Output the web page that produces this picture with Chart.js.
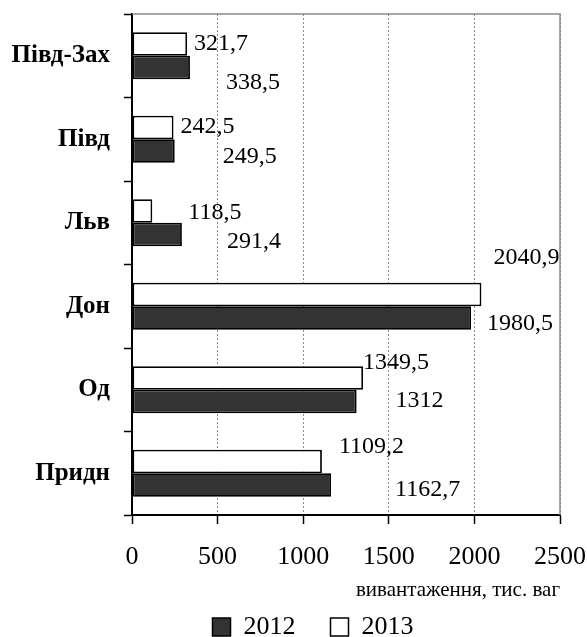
<!DOCTYPE html>
<html>
<head>
<meta charset="utf-8">
<script src="https://cdn.jsdelivr.net/npm/chart.js@4"></script>
<style>
  html, body { margin: 0; padding: 0; background: #fff; }
  #wrap { width: 587px; height: 637px; }
</style>
</head>
<body>
<div id="wrap"><canvas id="c" width="587" height="637"></canvas></div>
<script>
// Railway regions and loading volumes, thousand wagons
const categories = ['Півд-Зах', 'Півд', 'Льв', 'Дон', 'Од', 'Придн'];
const values2012 = [338.5, 249.5, 291.4, 1980.5, 1312, 1162.7];
const values2013 = [321.7, 242.5, 118.5, 2040.9, 1349.5, 1109.2];
const xTicks = [0, 500, 1000, 1500, 2000, 2500];
const axisTitle = 'вивантаження, тис. ваг';

// hand-placed value label offsets (px from bar end / bar centre)
const labelOffset2013 = [[7, 0], [7, -1], [36, 2], [12, -37], [0, -15], [17, -15]];
const labelOffset2012 = [[36, 15], [48, 6], [45, 7], [16, 6], [39, -1], [64, 5]];

const SERIF = '"Liberation Serif", "Times New Roman", serif';
const fmt = v => String(v).replace('.', ',');

// value labels next to each bar
const valueLabels = {
  id: 'valueLabels',
  afterDatasetsDraw(chart) {
    const ctx = chart.ctx;
    const xs = chart.scales.x;
    ctx.save();
    ctx.font = '24px ' + SERIF;
    ctx.fillStyle = '#000';
    ctx.textAlign = 'left';
    ctx.textBaseline = 'middle';
    chart.data.datasets.forEach((ds, di) => {
      const meta = chart.getDatasetMeta(di);
      const offs = ds.label === '2013' ? labelOffset2013 : labelOffset2012;
      meta.data.forEach((bar, i) => {
        const v = ds.data[i];
        const x = xs.getPixelForValue(v) + offs[i][0];
        const y = bar.y + offs[i][1];
        ctx.fillText(fmt(v), x, y);
      });
    });
    ctx.restore();
  }
};

// light frame on top and right of the plot
const plotFrame = {
  id: 'plotFrame',
  beforeDatasetsDraw(chart) {
    const {ctx, chartArea: a} = chart;
    ctx.save();
    ctx.strokeStyle = '#8a8a8a';
    ctx.lineWidth = 1.5;
    ctx.beginPath();
    ctx.moveTo(a.left, a.top);
    ctx.lineTo(a.right, a.top);
    ctx.lineTo(a.right, a.bottom);
    ctx.stroke();
    ctx.restore();
  }
};

// centre the legend row a little right of the canvas middle
const legendShift = {
  id: 'legendShift',
  afterLayout(chart) {
    if (chart.legend) chart.legend.left = 66;
  }
};

new Chart(document.getElementById('c'), {
  type: 'bar',
  data: {
    labels: categories,
    datasets: [
      {
        label: '2013',
        data: values2013,
        backgroundColor: '#ffffff',
        borderColor: '#000000',
        borderWidth: 1.8,
        borderSkipped: false,
        categoryPercentage: 0.565,
        barPercentage: 1.0
      },
      {
        label: '2012',
        data: values2012,
        backgroundColor: '#333333',
        borderColor: '#000000',
        borderWidth: 1.8,
        borderSkipped: false,
        categoryPercentage: 0.565,
        barPercentage: 1.0
      }
    ]
  },
  options: {
    indexAxis: 'y',
    responsive: false,
    animation: false,
    devicePixelRatio: 1,
    layout: { padding: { top: 14, right: 27, left: 0, bottom: 0 } },
    scales: {
      x: {
        min: 0,
        max: 2500,
        afterBuildTicks(scale) {
          scale.ticks = xTicks.map(v => ({ value: v }));
        },
        afterFit(scale) {
          scale.height = 64;
          scale.paddingLeft = 0;
          scale.paddingRight = 0;
        },
        grid: {
          color: ctx => (ctx.tick && ctx.tick.value === 0) ? 'rgba(0,0,0,0)' : '#8a8a8a',
          lineWidth: 1,
          tickColor: '#000',
          tickLength: 9,
          tickWidth: 1.5,
          tickBorderDash: []
        },
        border: { display: true, color: '#000', width: 2, dash: [2, 2] },
        ticks: {
          color: '#000',
          padding: 18,
          maxRotation: 0,
          font: { family: SERIF, size: 26 },
          callback: v => String(v)
        },
        title: {
          display: true,
          text: axisTitle,
          align: 'end',
          color: '#000',
          padding: { top: 0, bottom: -24 },
          font: { family: SERIF, size: 21 }
        }
      },
      y: {
        afterFit(scale) {
          scale.width = 132;
          scale.paddingTop = 0;
          scale.paddingBottom = 0;
        },
        grid: {
          offset: true,
          drawOnChartArea: false,
          tickColor: '#000',
          tickLength: 8,
          tickWidth: 1.5
        },
        border: { display: true, color: '#000', width: 2 },
        ticks: {
          color: '#000',
          padding: 14,
          font: { family: SERIF, size: 25, weight: 'bold' }
        }
      }
    },
    plugins: {
      legend: {
        position: 'bottom',
        reverse: true,
        maxHeight: 58,
        labels: {
          color: '#000',
          boxWidth: 18,
          boxHeight: 18,
          padding: 35,
          font: { family: SERIF, size: 26 },
          generateLabels(chart) {
            return chart.data.datasets.map((ds, i) => ({
              text: ds.label,
              fillStyle: ds.backgroundColor,
              strokeStyle: '#000',
              lineWidth: 1.5,
              datasetIndex: i,
              hidden: false
            }));
          }
        }
      },
      tooltip: { enabled: false }
    }
  },
  plugins: [plotFrame, valueLabels, legendShift]
});
</script>
</body>
</html>
